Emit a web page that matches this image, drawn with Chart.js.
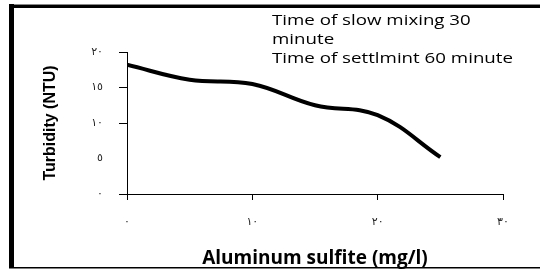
<!DOCTYPE html>
<html>
<head>
<meta charset="utf-8">
<script src="https://cdn.jsdelivr.net/npm/chart.js@4/dist/chart.umd.min.js"></script>
<style>
  html, body { margin: 0; padding: 0; background: #fff; }
  #wrap { position: relative; width: 540px; height: 269px; }
  canvas { display: block; }
</style>
</head>
<body>
<div id="wrap"><canvas id="c" width="540" height="269"></canvas></div>
<script>
// ---- data ----
const doses = [0, 5, 10, 15, 20, 25];                 // Aluminum sulfite (mg/l)
const turbidity = [18.2, 16.1, 15.5, 12.5, 11.1, 5.2]; // Turbidity (NTU)
const xTickValues = [0, 10, 20, 30];
const xTickLabels = ['٠', '١٠', '٢٠', '٣٠'];
const yTickValues = [0, 5, 10, 15, 20];
const yTickLabels = ['٠', '٥', '١٠', '١٥', '٢٠'];
const noteLines = ['Time of slow mixing 30', 'minute', 'Time of settlmint 60 minute'];
const xTitle = 'Aluminum sulfite (mg/l)';
const yTitle = 'Turbidity (NTU)';

const framePlugin = {
  id: 'frame',
  beforeDraw(chart) {
    const ctx = chart.ctx;
    ctx.save();
    ctx.fillStyle = '#fff';
    ctx.fillRect(0, 0, chart.width, chart.height);
    ctx.fillStyle = '#000';
    ctx.fillRect(9, 5, 531, 3);   // top
    ctx.fillStyle = '#888';
    ctx.fillRect(9, 4, 531, 1);
    ctx.fillStyle = '#000';
    ctx.fillRect(9, 4, 5, 264);   // left
    ctx.fillRect(9, 267, 531, 1.5); // bottom
    ctx.restore();
  },
  afterDraw(chart) {
    const ctx = chart.ctx;
    ctx.save();
    ctx.fillStyle = '#000';
    ctx.font = '15px "Open Sans", sans-serif';
    ctx.textBaseline = 'alphabetic';
    ctx.textAlign = 'left';
    // stretch horizontally so the longest line spans the same width as in the figure
    const w = ctx.measureText(noteLines[2]).width;
    const sx = 241 / w;
    ctx.translate(272, 0);
    ctx.scale(sx, 1);
    const baselines = [25, 44, 63];
    noteLines.forEach((t, i) => ctx.fillText(t, 0, baselines[i]));
    ctx.restore();
  }
};

new Chart(document.getElementById('c'), {
  type: 'line',
  data: {
    datasets: [{
      data: doses.map((d, i) => ({ x: d, y: turbidity[i] })),
      borderColor: '#000',
      borderWidth: 4,
      pointRadius: 0,
      tension: 0.4,
      fill: false
    }]
  },
  options: {
    responsive: false,
    animation: false,
    events: [],
    layout: { padding: { left: 0, top: 52, right: 37, bottom: 0 } },
    plugins: { legend: { display: false }, tooltip: { enabled: false } },
    scales: {
      x: {
        type: 'linear',
        min: 0, max: 30,
        afterBuildTicks(s) { s.ticks = xTickValues.map(v => ({ value: v })); },
        afterFit(s) { s.height = 75; },
        grid: { drawOnChartArea: false, drawTicks: true, tickLength: 6, color: '#000', lineWidth: 1 },
        border: { color: '#000', width: 1 },
        ticks: {
          padding: 16,
          color: '#222',
          font: { family: '"DejaVu Sans", sans-serif', size: 11 },
          maxRotation: 0,
          callback: (v) => xTickLabels[xTickValues.indexOf(v)]
        },
        title: {
          display: true, text: xTitle, color: '#000',
          font: { family: '"Open Sans", sans-serif', size: 19, weight: 'bold', lineHeight: 1.1 },
          padding: { top: 0, bottom: 0 }
        }
      },
      y: {
        min: 0, max: 20,
        afterBuildTicks(s) { s.ticks = yTickValues.map(v => ({ value: v })); },
        afterFit(s) { s.width = 127; },
        grid: {
          drawOnChartArea: false, drawTicks: true, tickLength: 8, lineWidth: 1,
          color: (c) => (c.tick && c.tick.value === 5) ? 'rgba(0,0,0,0)' : '#000'
        },
        border: { color: '#000', width: 1 },
        ticks: {
          padding: 16,
          color: '#222',
          font: { family: '"DejaVu Sans", sans-serif', size: 11 },
          callback: (v) => yTickLabels[yTickValues.indexOf(v)]
        },
        title: {
          display: true, text: yTitle, color: '#000',
          font: { family: '"Liberation Sans", Arial, sans-serif', size: 16, weight: 'bold' },
          padding: { top: 41, bottom: 0 }
        }
      }
    }
  },
  plugins: [framePlugin]
});
</script>
</body>
</html>
